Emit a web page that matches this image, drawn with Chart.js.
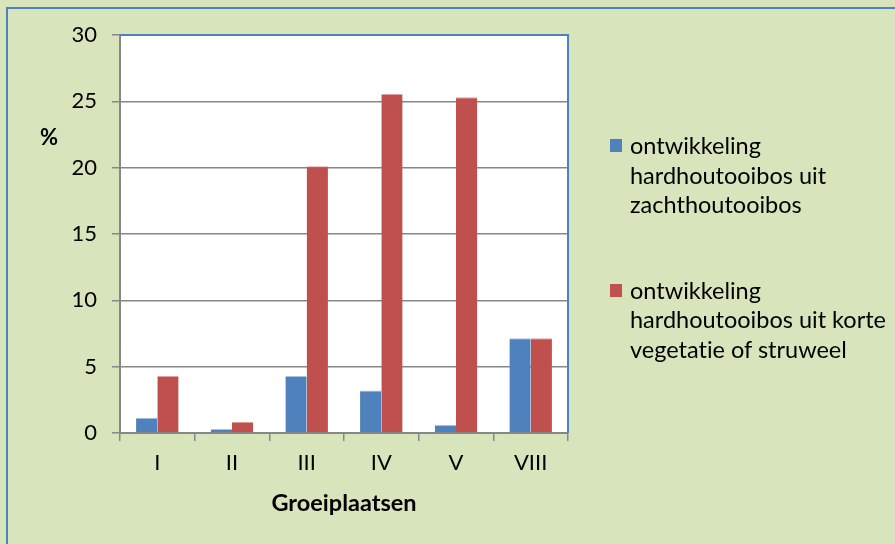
<!DOCTYPE html>
<html>
<head>
<meta charset="utf-8">
<script src="https://cdn.jsdelivr.net/npm/chart.js@4.4.1/dist/chart.umd.min.js"></script>
<style>
  html, body { margin: 0; padding: 0; }
  #wrap { position: relative; width: 895px; height: 544px; background: #d8e4bc; overflow: hidden; font-family: Lato, "Noto Sans", sans-serif; font-variant-ligatures: none; }
  #frame { position: absolute; left: 6px; top: 7px; width: 1000px; height: 1000px; border-top: 2px solid #4f81bd; border-left: 2px solid #4f81bd; box-sizing: border-box; }
  #chart { position: absolute; left: 0; top: 0; }
  #ytitle { position: absolute; left: 40px; top: 123px; font-weight: bold; font-size: 22px; color: #000; }
  #legend { position: absolute; left: 610px; top: 131px; font-size: 23.5px; line-height: 29.5px; color: #000; }
  .item { position: relative; padding-left: 20px; width: 285px; margin-bottom: 56px; white-space: nowrap; }
  .box { position: absolute; left: 0; top: 8px; width: 12px; height: 13px; }
</style>
</head>
<body>
<div id="wrap">
  <div id="frame"></div>
  <canvas id="chart" width="895" height="544"></canvas>
  <div id="ytitle">%</div>
  <div id="legend"></div>
</div>
<script>
// categories (groeiplaatsen) and percentages
const categories = ['I', 'II', 'III', 'IV', 'V', 'VIII'];
const zachtNaarHard = [1.15, 0.3, 4.3, 3.2, 0.6, 7.15];
const kortNaarHard = [4.3, 0.85, 20.1, 25.55, 25.3, 7.15];
// legend lines as they wrap in the original
const seriesLines = [
  ['ontwikkeling', 'hardhoutooibos uit', 'zachthoutooibos'],
  ['ontwikkeling', 'hardhoutooibos uit korte', 'vegetatie of struweel']
];
const yTicks = [0, 5, 10, 15, 20, 25, 30];

const BLUE = '#4f81bd';
const RED = '#c0504d';
const GRID = '#878787';
const FONT = 'Lato';

// blauwe rand boven en rechts van het plotvlak
const plotBorder = {
  id: 'plotBorder',
  afterDraw(chart) {
    const a = chart.chartArea;
    const ctx = chart.ctx;
    ctx.save();
    ctx.strokeStyle = BLUE;
    ctx.lineWidth = 2;
    ctx.beginPath();
    ctx.moveTo(a.left, a.top);
    ctx.lineTo(a.right, a.top);
    ctx.lineTo(a.right, a.bottom);
    ctx.stroke();
    ctx.restore();
  }
};

const plotBg = {
  id: 'plotBg',
  beforeDraw(chart) {
    const a = chart.chartArea;
    chart.ctx.save();
    chart.ctx.fillStyle = '#ffffff';
    chart.ctx.fillRect(a.left, a.top, a.right - a.left, a.bottom - a.top);
    chart.ctx.restore();
  }
};

new Chart(document.getElementById('chart'), {
  type: 'bar',
  data: {
    labels: categories,
    datasets: [
      { label: seriesLines[0].join(' '), data: zachtNaarHard, backgroundColor: BLUE, borderColor: '#a9c0de', borderWidth: { top: 1, left: 0, right: 0, bottom: 0 } },
      { label: seriesLines[1].join(' '), data: kortNaarHard, backgroundColor: RED, borderColor: '#dea3a2', borderWidth: { top: 1, left: 0, right: 0, bottom: 0 } }
    ]
  },
  options: {
    responsive: false,
    animation: false,
    devicePixelRatio: 1,
    datasets: { bar: { barPercentage: 1.0, categoryPercentage: 0.57 } },
    layout: { padding: { left: 0, top: 35, right: 327, bottom: 24 } },
    plugins: { legend: { display: false }, tooltip: { enabled: false } },
    scales: {
      x: {
        grid: { drawOnChartArea: false, drawTicks: true, tickLength: 8, color: GRID, lineWidth: 1.5 },
        border: { color: GRID, width: 2 },
        ticks: { color: '#000', font: { family: FONT, size: 22 }, padding: 9 },
        title: { display: true, text: 'Groeiplaatsen', color: '#000', font: { family: FONT, size: 23.5, weight: 'bold' }, padding: { top: 4, bottom: 2 } },
        afterFit(scale) { scale.height = 87; }
      },
      y: {
        min: 0,
        max: 30,
        afterBuildTicks(scale) { scale.ticks = yTicks.map(v => ({ value: v })); },
        grid: { color: GRID, lineWidth: 1.5, tickLength: 8 },
        border: { color: GRID, width: 2 },
        ticks: { color: '#000', font: { family: FONT, size: 22 }, padding: 15 },
        afterFit(scale) { scale.width = 120; }
      }
    }
  },
  plugins: [plotBg, plotBorder]
});

// legenda als tekst naast de grafiek
const legend = document.getElementById('legend');
[BLUE, RED].forEach((c, i) => {
  const item = document.createElement('div');
  item.className = 'item';
  item.innerHTML = '<span class="box" style="background:' + c + '"></span>' + seriesLines[i].join('<br>');
  legend.appendChild(item);
});
</script>
</body>
</html>
